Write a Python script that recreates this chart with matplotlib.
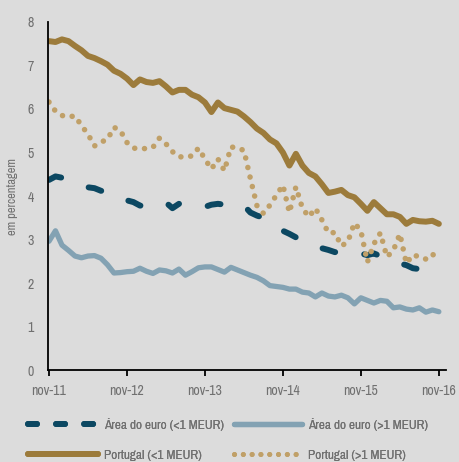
import numpy as np
import matplotlib
matplotlib.use("Agg")
import matplotlib.pyplot as plt
from matplotlib.lines import Line2D
from matplotlib import font_manager

# monthly, nov-11 .. nov-16
meses = np.arange(61)
tick_pos = [0, 12, 24, 36, 48, 60]
tick_lab = ["nov-11", "nov-12", "nov-13", "nov-14", "nov-15", "nov-16"]

euro_pequenos = [4.37, 4.45, 4.42, 4.35, 4.30, 4.25, 4.20, 4.18, 4.12, 4.10,
                 4.05, 3.95, 3.90, 3.86, 3.78, 3.77, 3.78, 3.82, 3.85, 3.72,
                 3.82, 3.84, 3.82, 3.78, 3.75, 3.80, 3.82, 3.80, 3.78, 3.78,
                 3.78, 3.62, 3.55, 3.50, 3.40, 3.30, 3.20, 3.13, 3.05, 2.98,
                 2.92, 2.88, 2.80, 2.76, 2.71, 2.72, 2.72, 2.71, 2.68, 2.64,
                 2.68, 2.62, 2.56, 2.52, 2.45, 2.41, 2.34, 2.32, 2.30, 2.28,
                 2.26]
euro_grandes = [2.96, 3.20, 2.87, 2.75, 2.62, 2.58, 2.62, 2.63, 2.57, 2.42,
                2.23, 2.24, 2.26, 2.27, 2.34, 2.27, 2.22, 2.30, 2.28, 2.23,
                2.32, 2.18, 2.26, 2.35, 2.37, 2.37, 2.31, 2.25, 2.36, 2.30,
                2.24, 2.18, 2.13, 2.05, 1.94, 1.92, 1.90, 1.86, 1.86, 1.79,
                1.77, 1.68, 1.77, 1.70, 1.68, 1.72, 1.66, 1.52, 1.66, 1.60,
                1.54, 1.60, 1.58, 1.43, 1.45, 1.40, 1.38, 1.43, 1.33, 1.38,
                1.34]
pt_pequenos = [7.56, 7.54, 7.60, 7.56, 7.45, 7.35, 7.22, 7.17, 7.10, 7.02,
               6.88, 6.81, 6.70, 6.55, 6.68, 6.62, 6.60, 6.64, 6.52, 6.38,
               6.44, 6.44, 6.33, 6.27, 6.15, 5.93, 6.15, 6.02, 5.98, 5.94,
               5.83, 5.70, 5.55, 5.45, 5.30, 5.21, 5.00, 4.70, 4.97, 4.70,
               4.53, 4.45, 4.27, 4.07, 4.10, 4.14, 4.02, 3.97, 3.82, 3.66,
               3.86, 3.72, 3.58, 3.58, 3.52, 3.36, 3.45, 3.42, 3.41, 3.43,
               3.36]
pt_grandes = [6.16, 5.95, 5.85, 5.82, 5.84, 5.62, 5.42, 5.15, 5.24, 5.30,
              5.58, 5.50, 5.23, 5.10, 5.09, 5.09, 5.12, 5.33, 5.20, 5.02,
              4.90, 4.90, 4.92, 5.10, 4.85, 4.62, 4.85, 4.58, 5.13, 5.10,
              5.05, 4.40, 3.78, 3.60, 3.79, 4.02, 4.25, 3.62, 4.21, 3.72,
              3.52, 3.72, 3.45, 3.15, 3.16, 2.85, 2.95, 3.38, 3.20, 2.48,
              2.90, 3.15, 2.60, 2.75, 3.13, 2.45, 2.65, 2.60, 2.55, 2.67,
              2.50]

c_euro1 = "#0c4862"
c_euro2 = "#83a2b3"
c_pt1 = "#9c7b3b"
c_pt2 = "#c0a068"
bg = "#dcdcdc"
txt = "#707070"

# narrow font if there is one, else Roboto
nomes = sorted({f.name for f in font_manager.fontManager.ttflist})
estreitas = [n for n in nomes if 'Narrow' in n or 'Condensed' in n]
fonte = estreitas[0] if estreitas else 'Roboto'
plt.rcParams['font.family'] = [fonte, 'DejaVu Sans']
fs = 10 if estreitas else 8.5
fs_leg = 9.5 if estreitas else 8

fig = plt.figure(figsize=(4.59, 4.62), dpi=100, facecolor=bg)
ax = fig.add_axes([0.1046, 0.1991, 0.8671, 0.7533], facecolor=bg)

ax.plot(meses, euro_grandes, color=c_euro2, lw=3.8, solid_capstyle='round',
        solid_joinstyle='round')
ax.plot(meses, pt_pequenos, color=c_pt1, lw=4.3, solid_capstyle='round',
        solid_joinstyle='round')
ax.plot(meses, euro_pequenos, color=c_euro1, lw=4.3, dashes=(2.2, 4.9),
        dash_capstyle='round')
ax.plot(meses, pt_grandes, color=c_pt2, lw=4.0, dashes=(0.01, 1.75),
        dash_capstyle='round')

ax.set_xlim(-0.15, 61.1)
ax.set_ylim(0, 8)
ax.set_xticks(tick_pos)
ax.set_xticklabels(tick_lab)
ax.set_yticks(range(0, 9))
for s in ['top', 'right']:
    ax.spines[s].set_visible(False)
for s in ['left', 'bottom']:
    ax.spines[s].set_linewidth(1.3)
    ax.spines[s].set_color('black')
ax.tick_params(axis='x', length=4, width=1.3, colors='black', labelcolor=txt,
               labelsize=fs, pad=6)
ax.tick_params(axis='y', length=0, labelcolor=txt, labelsize=fs, pad=10)
ax.set_ylabel("em percentagem", color=txt, fontsize=9, labelpad=7)

# legend: one column each, placed by hand
col1 = [Line2D([], [], color=c_euro1, lw=4.3, dashes=(1.5, 3.2), dash_capstyle='round'),
        Line2D([], [], color=c_pt1, lw=4.3, solid_capstyle='round')]
lab1 = ["Área do euro (<1 MEUR)", "Portugal (<1 MEUR)"]
col2 = [Line2D([], [], color=c_euro2, lw=3.8, solid_capstyle='round'),
        Line2D([], [], color=c_pt2, lw=3.6, dashes=(0.01, 1.75), dash_capstyle='round')]
lab2 = ["Área do euro (>1 MEUR)", "Portugal (>1 MEUR)"]

for hs, ls, x0, hl in [(col1, lab1, 28 / 459, 70), (col2, lab2, 234 / 459, 68)]:
    leg = fig.legend(hs, ls, loc='upper left', bbox_to_anchor=(x0, 1 - 418 / 462),
                     frameon=False, fontsize=fs_leg, borderpad=0, borderaxespad=0,
                     handlelength=hl / (fs_leg * 100 / 72), handletextpad=0.45,
                     labelspacing=1.4)
    for t in leg.get_texts():
        t.set_color(txt)
    fig.add_artist(leg)

fig.savefig("out.png", dpi=100, facecolor=bg)
